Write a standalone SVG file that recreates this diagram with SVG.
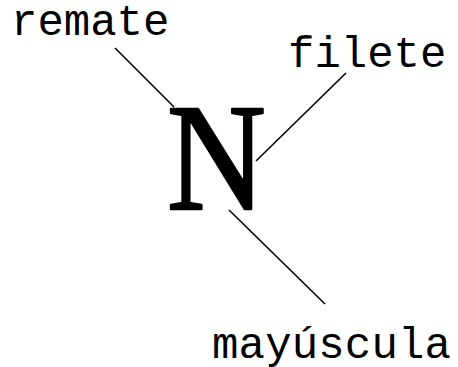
<svg xmlns="http://www.w3.org/2000/svg" width="458" height="367" viewBox="0 0 458 367">
<style>
.lbl{font-family:"Liberation Mono","Courier New",monospace;font-size:44px;fill:#000}
.big{font-family:"Liberation Serif","Times New Roman",serif;font-size:152px;fill:#000;stroke:#000;stroke-width:2.5;stroke-linejoin:round}
.con{stroke:#000;stroke-width:1.6;fill:none}
</style>
<rect width="458" height="367" fill="#fff"/>
<g id="connectors">
<line class="con" x1="115" y1="48" x2="174" y2="107"/>
<line class="con" x1="346" y1="73" x2="256" y2="161"/>
<line class="con" x1="229" y1="210" x2="325" y2="304"/>
</g>
<g id="letter-N"><text class="big" transform="translate(167,209) scale(0.9,1)" x="0" y="0">N</text></g>
<g id="remate"><text class="lbl" x="11" y="35">remate</text></g>
<g id="filete"><text class="lbl" x="288" y="67">filete</text></g>
<g id="mayuscula"><text class="lbl" x="212" y="358" textLength="239">mayúscula</text></g>
</svg>
